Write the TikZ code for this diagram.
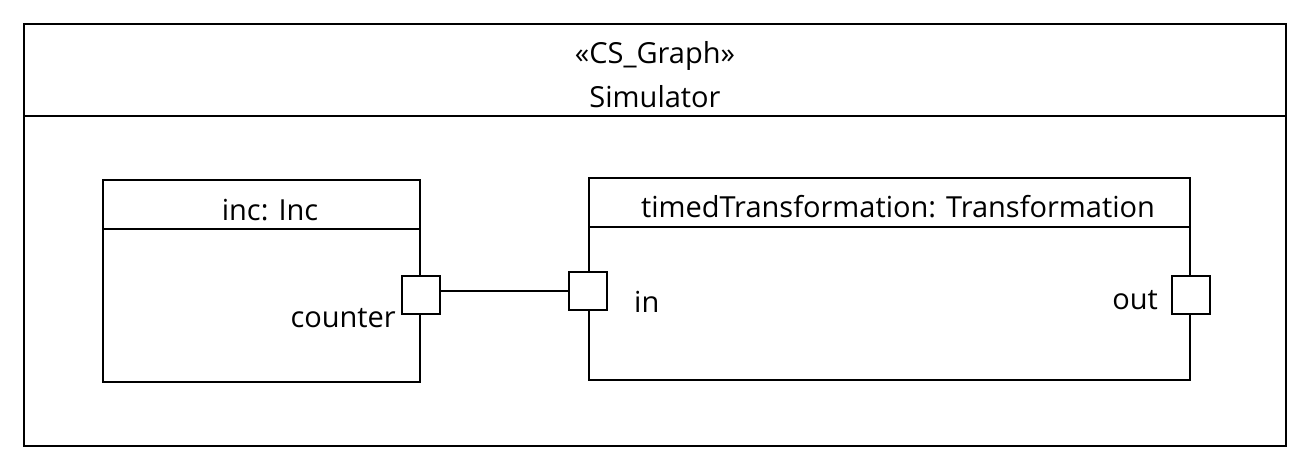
\documentclass[tikz,border=0pt]{standalone}
\usepackage{fontspec}
\setmainfont{Open Sans}
\usetikzlibrary{positioning}
\newcommand{\umlfont}{\fontsize{29}{34}\selectfont}
\tikzset{
  umlframe/.style={draw=black,line width=2pt,anchor=north west,inner sep=0pt},
  umlport/.style={draw=black,fill=white,line width=2pt,minimum size=38pt,inner sep=0pt},
  umltext/.style={font=\umlfont,inner sep=0pt},
  umlline/.style={draw=black,line width=2pt},
}

\begin{document}
\begin{tikzpicture}[x=1pt,y=-1pt]
  \path[use as bounding box] (0,0) rectangle (1308,469);
  % outer frame with its header
  \node[umlframe,minimum width=1262pt,minimum height=422pt] (sim) at (23,23) {};
  \draw[umlline] (sim.west |- 0,116) -- (sim.east |- 0,116);
  \node[umltext,anchor=base] (stereo) at (655,63) {«CS\_Graph»};
  \node[umltext,anchor=base] (simname) at (655,107) {Simulator};
  % part inc
  \node[umlframe,minimum width=317pt,minimum height=202pt] (inc) at (102,179) {};
  \draw[umlline] (inc.west |- 0,229) -- (inc.east |- 0,229);
  \node[umltext,anchor=base] (inctitle) at (270,220) {inc: Inc};
  \node[umlport] (counter) at (inc.east |- 0,295) {};
  \node[umltext,anchor=base east] (counterlbl) at (396,327) {counter};
  % part timedTransformation
  \node[umlframe,minimum width=601pt,minimum height=202pt] (trans) at (588,177) {};
  \draw[umlline] (trans.west |- 0,227) -- (trans.east |- 0,227);
  \node[umltext,anchor=base] (transtitle) at (898,217) {timedTransformation: Transformation};
  \node[umlport] (inport) at (trans.west |- 0,291) {};
  \node[umltext,anchor=base west] (inlbl) at (634,312) {in};
  \node[umlport] (outport) at (trans.east |- 0,295) {};
  \node[umltext,anchor=base east] (outlbl) at (1158,309) {out};
  % connector
  \draw[umlline] (counter.east |- inport) -- (inport.west);
\end{tikzpicture}
\end{document}
